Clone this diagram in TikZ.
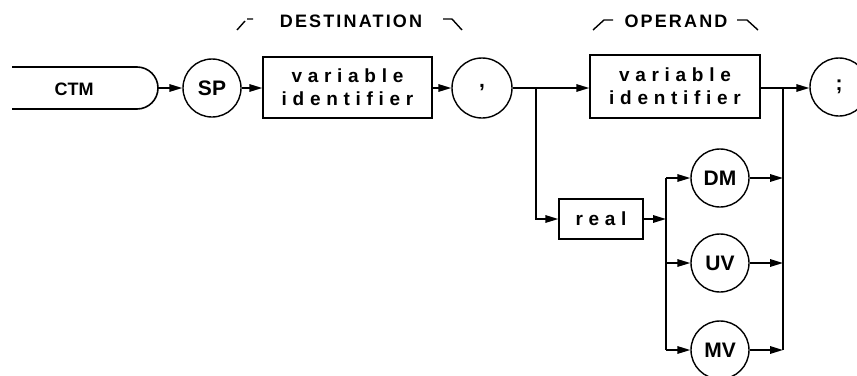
\documentclass[tikz,border=0pt]{standalone}
\usepackage{fontspec}
\setmainfont{Liberation Sans}
\newfontfamily\labfont{Liberation Sans}
\newfontfamily\hdfont[LetterSpace=12]{Liberation Sans}
\newfontfamily\spcfont[LetterSpace=30]{Liberation Sans}
\usetikzlibrary{arrows.meta}
\begin{document}
\begin{tikzpicture}[x=1pt,y=-1pt,
  line width=1.6pt,
  arr/.style={-{Triangle[length=13pt,width=7.5pt]}},
  kw/.style={circle,draw,line width=1.4pt,minimum size=58pt,inner sep=0pt,font=\labfont\bfseries\fontsize{21}{21}\selectfont},
  idbox/.style={rectangle,draw,line width=1.4pt,inner sep=0pt,align=center,font=\spcfont\bfseries\fontsize{19}{23}\selectfont},
  head/.style={font=\hdfont\bfseries\fontsize{18}{18}\selectfont,inner sep=0pt},
  bracemark/.style={line width=1.4pt}]
\useasboundingbox (0,0) rectangle (857,375);
\clip (0,0) rectangle (857,375);
% terminal CTM
\draw (12,67) -- (137,67) arc[start angle=-90,end angle=90,radius=21] -- (12,109);
\node[font=\labfont\bfseries\fontsize{18}{18}\selectfont,inner sep=0pt] (ctm) at (74,89) {CTM};
\coordinate (ctme) at (158,88);
% nodes
\node[kw] (sp) at (212,88) {SP};
\node[idbox,minimum width=169pt,minimum height=61pt] (dest) at (347.5,87.5) {variable\\identifier};
\node[kw,minimum size=60pt] (comma) at (482,88) {,};
\node[idbox,minimum width=170pt,minimum height=63pt] (oper) at (675,86.5) {variable\\identifier};
\node[kw] (semi) at (839,87) {;};
\node[idbox,minimum width=84pt,minimum height=40pt] (real) at (601,219) {real};
\node[kw] (dm) at (720,178) {DM};
\node[kw] (uv) at (720,263) {UV};
\node[kw] (mv) at (720,350) {MV};
% headings
\node[head] (hdest) at (351,21) {DESTINATION};
\node[head] (hoper) at (676,21) {OPERAND};
\draw[bracemark] (237,30) -- (245,21) (247,19) -- (253,19);
\draw[bracemark] (443,19) -- (452,19) -- (462,30);
\draw[bracemark] (593,30) -- (604,20) -- (613,20);
\draw[bracemark] (737,20) -- (747,20) -- (758,30);
% rails and junctions
\coordinate (br) at (536,88);
\coordinate (lr1) at (666,178);
\coordinate (lr2) at (666,219);
\coordinate (lr3) at (666,263);
\coordinate (lr4) at (666,350);
\coordinate (rr0) at (783,88);
\coordinate (rr1) at (783,178);
\coordinate (rr2) at (783,263);
\coordinate (rr3) at (783,350);
% connectors
\draw[arr] (ctme) -- (sp.west);
\draw[arr] (sp.east) -- (dest.west |- sp.east);
\draw[arr] (dest.east |- comma.west) -- (comma.west);
\draw (comma.east) -- (br);
\draw[arr] (br) -- (oper.west |- br);
\draw[arr] (br) |- (real.west);
\draw[arr] (real.east) -- (lr2);
\draw (lr1) -- (lr4);
\draw[arr] (lr1) -- (dm.west);
\draw[arr] (lr3) -- (uv.west);
\draw[arr] (lr4) -- (mv.west);
\draw[arr] (dm.east) -- (rr1);
\draw[arr] (uv.east) -- (rr2);
\draw[arr] (mv.east) -- (rr3);
\draw (rr0) -- (rr3);
\draw (oper.east |- rr0) -- (rr0);
\draw[arr] (rr0) -- (semi.west |- rr0);
\end{tikzpicture}
\end{document}
